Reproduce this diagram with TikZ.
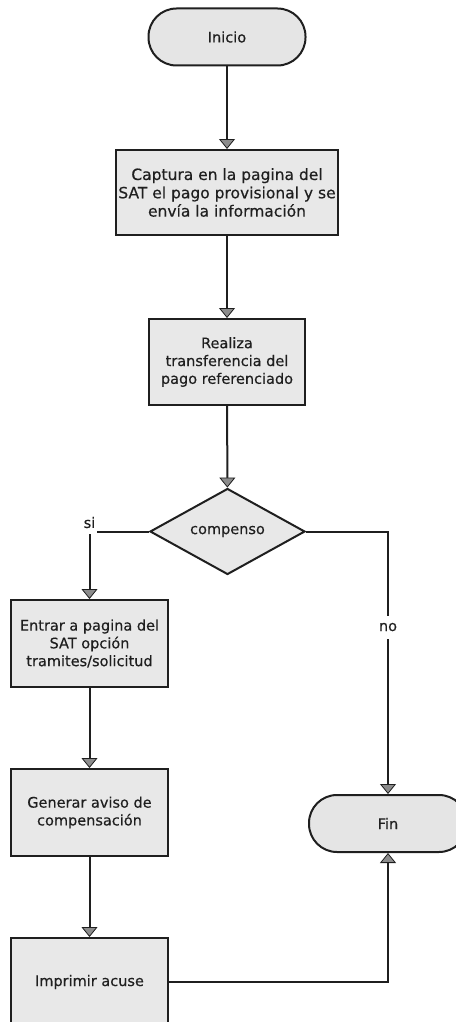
\documentclass[tikz,border=0pt]{standalone}
\usepackage{fontspec}
\setmainfont{DejaVu Sans}
\newfontfamily\medfont{DejaVu Sans}[BoldFont={DejaVu Sans},BoldFeatures={FakeBold=0.4}]
\usetikzlibrary{arrows.meta,shapes.geometric}
\begin{document}
\begin{tikzpicture}[x=1pt,y=-1pt,
  every node/.style={font=\medfont\bfseries\fontsize{14.5}{17.8}\selectfont, text=black!88},
  proc/.style={draw=black!88, line width=2pt, fill=black!9, align=center, inner sep=2pt},
  term/.style={draw=black!88, line width=2pt, fill=black!10, rounded corners=28pt, inner sep=0pt},
  decis/.style={diamond, aspect=1.8, draw=black!88, line width=2pt, fill=black!9, inner sep=0pt,
    minimum width=155pt, minimum height=86pt},
  conn/.style={draw=black!88, line width=2pt,
    -{Triangle[width=16pt,length=10pt,fill=black!45,line width=0.8pt]}},
  lbl/.style={fill=white, inner sep=0pt}]
\useasboundingbox (0,0) rectangle (455,1022);
\node[term, minimum width=157pt, minimum height=57pt] (inicio) at (227,37) {Inicio};
\node[proc, minimum width=220pt, minimum height=85pt, font=\medfont\bfseries\fontsize{15.5}{18.3}\selectfont] (captura) at (227,192.5)
  {Captura en la pagina del\\SAT el pago provisional y se\\envía la información};
\node[proc, minimum width=156pt, minimum height=86pt] (realiza) at (227,362)
  {Realiza\\transferencia del\\pago referenciado};
\node[decis] (comp) at (227.5,531.5) {compenso};
\node[proc, minimum width=157pt, minimum height=87pt] (entrar) at (89.5,643.5)
  {Entrar a pagina del\\SAT opción\\tramites/solicitud};
\node[proc, minimum width=157pt, minimum height=87pt] (generar) at (89.5,812.5)
  {Generar aviso de\\compensación};
\node[proc, minimum width=157pt, minimum height=88pt] (imprimir) at (89.5,982)
  {Imprimir acuse};
\node[term, minimum width=158pt, minimum height=57pt] (fin) at (388,823.5) {Fin};

\draw[conn] (inicio) -- (captura);
\draw[conn] (captura) -- (realiza);
\draw[conn] (realiza) -- (comp);
\draw[conn] (comp.west) -| node[lbl, pos=0.5, yshift=9pt, minimum width=14pt, minimum height=22pt] {si} (entrar.north);
\draw[conn] (comp.east) -| node[lbl, pos=0.682, minimum width=22pt, minimum height=23pt] {no} (fin.north);
\draw[conn] (entrar) -- (generar);
\draw[conn] (generar) -- (imprimir);
\draw[conn] (imprimir.east) -| (fin.south);
\end{tikzpicture}
\end{document}
